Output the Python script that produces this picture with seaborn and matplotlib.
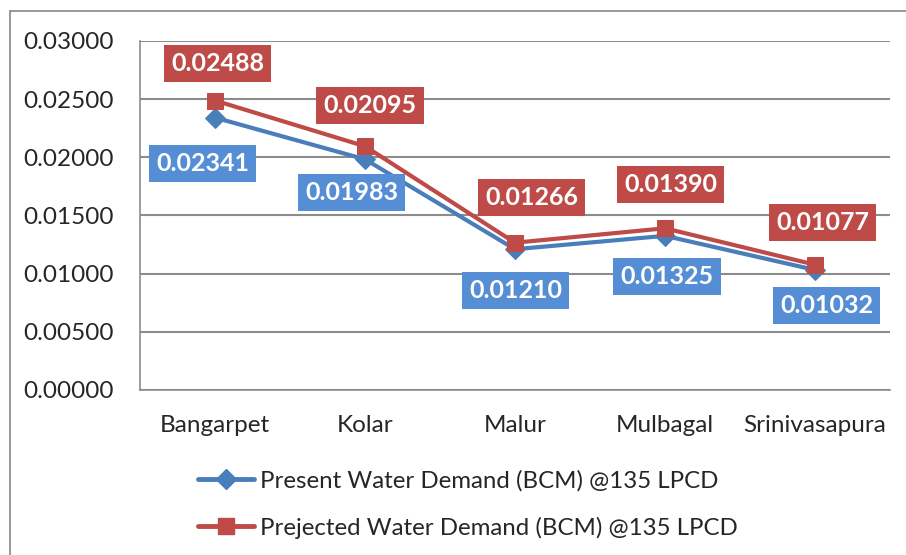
import pandas as pd
import seaborn as sns
import matplotlib.pyplot as plt
from matplotlib.lines import Line2D

sns.set_style("white")
plt.rcParams["font.family"] = ["Lato", "DejaVu Sans"]

# data
taluks = ["Bangarpet", "Kolar", "Malur", "Mulbagal", "Srinivasapura"]
present = [0.02341, 0.01983, 0.01210, 0.01325, 0.01032]
projected = [0.02488, 0.02095, 0.01266, 0.01390, 0.01077]
present_name = "Present Water Demand (BCM) @135 LPCD"
projected_name = "Prejected Water Demand (BCM) @135 LPCD"
yticks = [0.0, 0.005, 0.01, 0.015, 0.02, 0.025, 0.03]

# label placement (pixels from the point)
present_off = [(-12, -46), (-13, -33), (1, -41), (2, -41), (12, -36)]
projected_off = [(3, 37), (5, 41), (17, 45), (6, 44), (8, 42)]

blue_line = "#4A7EBB"
blue_box = "#558ED5"
red = "#BE4B48"
grid_col = "#8C8C8C"

df = pd.DataFrame({"taluk": taluks, "present": present, "projected": projected})

fig = plt.figure(figsize=(9.06, 5.55), dpi=100)
ax = fig.add_axes([0.1545, 0.2973, 0.8278, 0.6289])

sns.lineplot(data=df, x="taluk", y="present", ax=ax, color=blue_line, lw=3,
             marker="D", markersize=10, markeredgecolor=blue_line, sort=False)
sns.lineplot(data=df, x="taluk", y="projected", ax=ax, color=red, lw=3,
             marker="s", markersize=11, markeredgecolor=red, sort=False)

for i, (v, off) in enumerate(zip(present, present_off)):
    ax.annotate(f"{v:.5f}", (i, v), xytext=off, textcoords="offset pixels",
                ha="center", va="center", color="white", fontsize=18, fontweight="bold",
                bbox=dict(boxstyle="square,pad=0.28", fc=blue_box, ec="none"))
for i, (v, off) in enumerate(zip(projected, projected_off)):
    ax.annotate(f"{v:.5f}", (i, v), xytext=off, textcoords="offset pixels",
                ha="center", va="center", color="white", fontsize=18, fontweight="bold",
                bbox=dict(boxstyle="square,pad=0.28", fc=red, ec="none"))

ax.set_xlim(-0.5, len(taluks) - 0.5)
ax.set_ylim(0, 0.03)
ax.set_yticks(yticks)
ax.set_yticklabels([f"{t:.5f}" for t in yticks])
ax.set_xticks(range(len(taluks)))
ax.set_xticklabels(taluks)
ax.set_xlabel("")
ax.set_ylabel("")
ax.tick_params(axis="both", labelsize=17.5, length=0)
ax.tick_params(axis="y", pad=19)
ax.tick_params(axis="x", pad=18)
ax.set_xticks([i - 0.5 for i in range(len(taluks) + 1)], minor=True)
ax.tick_params(axis="x", which="minor", length=5, width=1.2, color=grid_col, direction="out")
ax.set_yticks(yticks, minor=True)
ax.tick_params(axis="y", which="minor", length=6, width=1.2, color=grid_col, direction="out")
ax.grid(axis="y", color=grid_col, lw=1.5)
ax.grid(axis="x", visible=False)
ax.set_axisbelow(True)
for s in ["top", "right"]:
    ax.spines[s].set_visible(False)
for s in ["left", "bottom"]:
    ax.spines[s].set_color(grid_col)
    ax.spines[s].set_linewidth(1.2)

handles = [
    Line2D([], [], color=blue_line, lw=3.5, marker="D", markersize=10, markeredgecolor=blue_line),
    Line2D([], [], color=red, lw=3.5, marker="s", markersize=12, markeredgecolor=red),
]
fig.legend(handles, [present_name, projected_name], loc="upper left",
           bbox_to_anchor=(0.205, 0.175), bbox_transform=fig.transFigure,
           frameon=False, fontsize=17.3, handlelength=2.35, handletextpad=0.25,
           labelspacing=1.05, borderpad=0)

# chart border (left/top edges visible)
fig.add_artist(Line2D([0.011, 0.011], [0, 0.981], color="#888888", lw=1.2))
fig.add_artist(Line2D([0.011, 1.0], [0.981, 0.981], color="#888888", lw=1.2))

fig.savefig("out.png", dpi=100)
